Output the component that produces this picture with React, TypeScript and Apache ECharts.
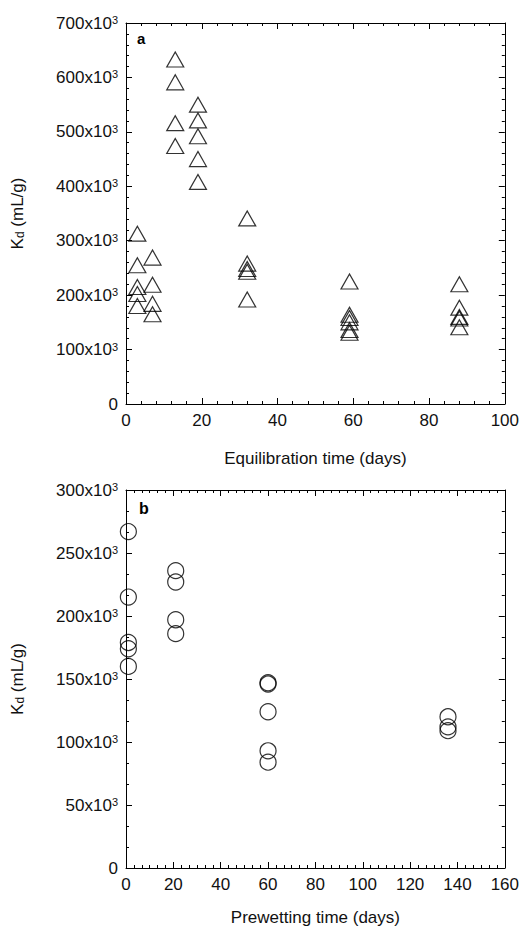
import React, { useEffect, useRef } from "react";
import * as echarts from "echarts";

// Panel a: equilibration time (days) vs Kd (x10^3 mL/g)
const equilDays = [3, 7, 13, 19, 32, 59, 88];
const kdEquil = [
  [313, 255, 215, 202, 180],
  [269, 219, 184, 165],
  [633, 591, 516, 474],
  [550, 521, 492, 450, 408],
  [341, 258, 248, 243, 192],
  [225, 164, 158, 150, 136, 131],
  [220, 177, 160, 157, 141],
];

// Panel b: prewetting time (days) vs Kd (x10^3 mL/g)
const prewetDays = [1, 21, 60, 136];
const kdPrewet = [
  [267, 215, 179, 174, 160],
  [236, 227, 197, 186],
  [147, 146, 124, 93, 84],
  [120, 112, 109],
];

const xTicksA = { min: 0, max: 100, interval: 20 };
const yTicksA = { min: 0, max: 700, interval: 100 };
const xTicksB = { min: 0, max: 160, interval: 20 };
const yTicksB = { min: 0, max: 300, interval: 50 };

const FONT = "Liberation Sans, Arial, Helvetica, sans-serif";

function pairs(days: number[], vals: number[][]) {
  const out: number[][] = [];
  days.forEach((d, i) => vals[i].forEach((v) => out.push([d, v])));
  return out;
}

const black = "#000";

function baseAxis(extra: any) {
  return {
    type: "value",
    axisLine: { show: true, onZero: false, lineStyle: { color: black, width: 1 } },
    axisTick: { show: true, inside: true, length: 6, lineStyle: { color: black } },
    minorTick: { show: true, length: 3, lineStyle: { color: black } },
    splitLine: { show: false },
    minorSplitLine: { show: false },
    ...extra,
  };
}

const yLabel = {
  fontFamily: FONT,
  color: black,
  margin: 8,
  formatter: (v: number) => (v === 0 ? "{n|0}" : `{n|${v}x10}{s|3}`),
  rich: {
    n: { fontSize: 17, fontFamily: FONT, color: "#111" },
    s: { fontSize: 11, fontFamily: FONT, color: "#111", verticalAlign: "top" },
  },
};

const xLabel = { fontSize: 17, fontFamily: FONT, color: "#111", margin: 8 };

const yName = "{k|K}{d|d}{k| (mL/g)}";
const yNameStyle = {
  rich: {
    k: { fontSize: 17, fontFamily: FONT, color: "#111" },
    d: { fontSize: 12, fontFamily: FONT, color: "#111", verticalAlign: "bottom" },
  },
};

export default function App() {
  const ref = useRef<HTMLDivElement>(null);
  useEffect(() => {
    if (!ref.current) return;
    const chart = echarts.init(ref.current, undefined, { renderer: "svg" });
    const option: any = {
      animation: false,
      backgroundColor: "#fff",
      grid: [
        { left: 126, right: 14, top: 23, height: 381 },
        { left: 126, right: 15, top: 490, height: 378 },
      ],
      xAxis: [
        baseAxis({
          gridIndex: 0, position: "bottom", ...xTicksA,
          minorTick: { show: true, splitNumber: 5, length: 3, lineStyle: { color: black } },
          axisLabel: xLabel,
          name: "Equilibration time (days)", nameLocation: "middle", nameGap: 46,
          nameTextStyle: { fontSize: 17, fontFamily: FONT, color: "#111" },
        }),
        baseAxis({
          gridIndex: 0, position: "top", ...xTicksA,
          minorTick: { show: true, splitNumber: 5, length: 3, lineStyle: { color: black } },
          axisLabel: { show: false },
        }),
        baseAxis({
          gridIndex: 1, position: "bottom", ...xTicksB,
          minorTick: { show: true, splitNumber: 6, length: 3, lineStyle: { color: black } },
          axisLabel: xLabel,
          name: "Prewetting time (days)", nameLocation: "middle", nameGap: 41,
          nameTextStyle: { fontSize: 17, fontFamily: FONT, color: "#111" },
        }),
        baseAxis({
          gridIndex: 1, position: "top", ...xTicksB,
          minorTick: { show: true, splitNumber: 6, length: 3, lineStyle: { color: black } },
          axisLabel: { show: false },
        }),
      ],
      yAxis: [
        baseAxis({
          gridIndex: 0, position: "left", ...yTicksA,
          minorTick: { show: true, splitNumber: 5, length: 3, lineStyle: { color: black } },
          axisLabel: yLabel,
          name: yName, nameLocation: "middle", nameGap: 100, nameRotate: 90,
          nameTextStyle: yNameStyle,
        }),
        baseAxis({
          gridIndex: 0, position: "right", ...yTicksA,
          minorTick: { show: true, splitNumber: 5, length: 3, lineStyle: { color: black } },
          axisLabel: { show: false },
        }),
        baseAxis({
          gridIndex: 1, position: "left", ...yTicksB,
          minorTick: { show: true, splitNumber: 3, length: 3, lineStyle: { color: black } },
          axisLabel: yLabel,
          name: yName, nameLocation: "middle", nameGap: 100, nameRotate: 90,
          nameTextStyle: yNameStyle,
        }),
        baseAxis({
          gridIndex: 1, position: "right", ...yTicksB,
          minorTick: { show: true, splitNumber: 3, length: 3, lineStyle: { color: black } },
          axisLabel: { show: false },
        }),
      ],
      graphic: [
        { type: "text", left: 137, top: 31, style: { text: "a", font: `bold 15px ${FONT}`, fill: black } },
        { type: "text", left: 139, top: 500, style: { text: "b", font: `bold 16px ${FONT}`, fill: black } },
      ],
      series: [
        {
          type: "scatter",
          xAxisIndex: 0,
          yAxisIndex: 0,
          data: pairs(equilDays, kdEquil),
          symbol: "triangle",
          symbolSize: [17, 15],
          itemStyle: { color: "rgba(0,0,0,0)", borderColor: black, borderWidth: 1.2 },
        },
        {
          type: "scatter",
          xAxisIndex: 2,
          yAxisIndex: 2,
          data: pairs(prewetDays, kdPrewet),
          symbol: "circle",
          symbolSize: 16,
          itemStyle: { color: "rgba(0,0,0,0)", borderColor: black, borderWidth: 1.2 },
        },
      ],
    };
    chart.setOption(option);
    return () => chart.dispose();
  }, []);
  return (
    <div
      ref={ref}
      style={{ position: "fixed", left: 0, top: 0, width: 522, height: 934, background: "#fff" }}
    />
  );
}
